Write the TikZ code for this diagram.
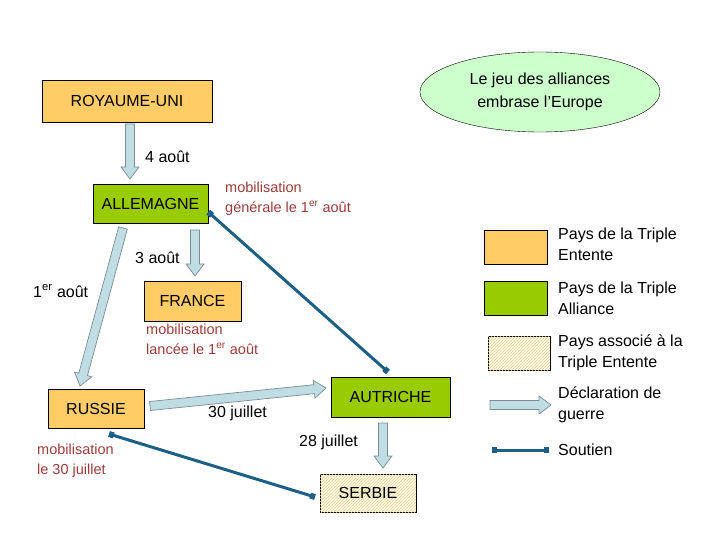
\documentclass[tikz,border=0pt]{standalone}
\usepackage{fontspec}
\setmainfont{Liberation Sans}
\usetikzlibrary{calc,shapes.geometric,patterns,arrows.meta}
\definecolor{ent}{HTML}{FFCC66}
\definecolor{all}{HTML}{99CC00}
\definecolor{ell}{HTML}{CCFFCC}
\definecolor{arf}{HTML}{BFDDE3}
\definecolor{ard}{HTML}{7A8C94}
\definecolor{sout}{HTML}{1C6089}
\definecolor{rouge}{HTML}{A03A3A}
\definecolor{hat}{HTML}{E6C98A}
\newcommand\bigarrow[2]{%
  \coordinate (H) at ($(#2)!12pt!(#1)$);
  \filldraw[fill=arf,draw=ard,line width=0.7pt]
   ($(#1)!4.5pt!90:(#2)$) -- ($(H)!4.5pt!-90:(#1)$) -- ($(H)!9pt!-90:(#1)$) -- (#2)
   -- ($(H)!9pt!90:(#1)$) -- ($(H)!4.5pt!90:(#1)$) -- ($(#1)!4.5pt!-90:(#2)$) -- cycle;}
\begin{document}
\begin{tikzpicture}[x=1pt,y=-1pt,
  box/.style={draw=black,line width=0.6pt,minimum height=39pt,inner sep=0pt,font=\fontsize{16}{16}\selectfont},
  lab/.style={font=\fontsize{16}{16}\selectfont,inner sep=0pt},
  red/.style={text=rouge,font=\fontsize{14.5}{19.5}\selectfont,align=left,inner sep=0pt,anchor=north west},
  leg/.style={font=\fontsize{16}{21}\selectfont,align=left,inner sep=0pt,anchor=west},
  sou/.style={sout,line width=3pt,{Square[length=5pt,width=6pt]}-{Square[length=5pt,width=6pt]}}]
\useasboundingbox (0,0) rectangle (720,540);
\node[box,fill=ent,minimum width=170pt,minimum height=42pt] (ru) at (127,101) {ROYAUME-UNI};
\node[ellipse,draw=black,fill=ell,minimum width=240pt,minimum height=80pt,align=center,font=\fontsize{16}{23}\selectfont] (title) at (540,92) {Le jeu des alliances\\embrase l’Europe};
\node[box,fill=all,minimum width=115pt] (al) at (150.5,204) {ALLEMAGNE};
\node[box,fill=ent,minimum width=97pt,minimum height=40pt] (fr) at (192.5,301) {FRANCE};
\node[box,fill=ent,minimum width=96pt] (rs) at (96,408.5) {RUSSIE};
\node[box,fill=all,minimum width=119pt,minimum height=40pt] (au) at (390.5,397) {AUTRICHE};
\node[box,fill=yellow!8,postaction={pattern=north east lines,pattern color=hat},minimum width=96pt,minimum height=38pt] (se) at (368,493) {SERBIE};
% arrows
\coordinate (a1) at (130,124); \coordinate (b1) at (130,179);
\bigarrow{a1}{b1}
\coordinate (a2) at (195,230); \coordinate (b2) at (195,276);
\bigarrow{a2}{b2}
\coordinate (a3) at (123,228); \coordinate (b3) at (80,386);
\bigarrow{a3}{b3}
\coordinate (a4) at (150,406); \coordinate (b4) at (326,388);
\bigarrow{a4}{b4}
\coordinate (a5) at (383,423); \coordinate (b5) at (383,468);
\bigarrow{a5}{b5}
% soutien
\draw[sou] (al.east|-0,212) -- (388,372) coordinate (x1);
\draw[sou] (109,434) -- (315,497);
% labels
\node[lab,anchor=west] at (145,157) {4 août};
\node[lab,anchor=west] at (135,258) {3 août};
\node[lab,anchor=west] at (33,291) {1\textsuperscript{er} août};
\node[lab,anchor=west] at (208,413) {30 juillet};
\node[lab,anchor=west] at (299,442) {28 juillet};
\node[red] at (225,182) {mobilisation\\générale le 1\textsuperscript{er} août};
\node[red] at (146,324) {mobilisation\\lancée le 1\textsuperscript{er} août};
\node[red] at (37,444) {mobilisation\\le 30 juillet};
% legend
\node[draw=black,fill=ent,minimum width=63pt,minimum height=34pt,inner sep=0pt] (l1) at (515.5,247) {};
\node[draw=black,fill=all,minimum width=63pt,minimum height=34pt,inner sep=0pt] (l2) at (515.5,298) {};
\node[draw=black,fill=yellow!8,postaction={pattern=north east lines,pattern color=hat},minimum width=62pt,minimum height=34pt,inner sep=0pt] (l3) at (519,353) {};
\coordinate (la) at (490,405); \coordinate (lb) at (551,405);
\bigarrow{la}{lb}
\coordinate (sa) at (492,450); \coordinate (sb) at (549,450);
\draw[sou] (sa) -- (sb);
\node[leg] at (558,244) {Pays de la Triple\\Entente};
\node[leg] at (558,298) {Pays de la Triple\\Alliance};
\node[leg] at (558,353) {Pays associé à la\\Triple Entente};
\node[leg] at (558,405) {Déclaration de\\guerre};
\node[leg] at (558,450) {Soutien};
\end{tikzpicture}
\end{document}
